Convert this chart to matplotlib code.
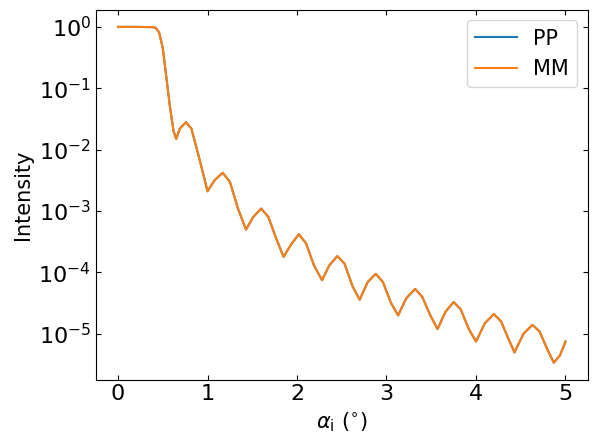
import numpy as np
import matplotlib.pyplot as plt

# values (angle in degrees, reflectivity)
alpha = [0.0, 0.2, 0.38, 0.42, 0.46, 0.5, 0.54, 0.58, 0.62, 0.65, 0.69, 0.76, 0.82,
         0.9, 1.0, 1.08, 1.17, 1.25, 1.34, 1.43, 1.51, 1.6, 1.68, 1.77, 1.85,
         1.93, 2.02, 2.1, 2.19, 2.28, 2.36, 2.45, 2.53, 2.62, 2.7, 2.79, 2.88,
         2.96, 3.05, 3.13, 3.22, 3.32, 3.4, 3.49, 3.57, 3.66, 3.75, 3.83, 3.92,
         4.0, 4.1, 4.2, 4.28, 4.36, 4.43, 4.53, 4.63, 4.71, 4.8, 4.87, 4.94, 5.0]
intensity = [1.0, 1.0, 0.99, 0.97, 0.8, 0.45, 0.15, 0.05, 0.02, 0.015, 0.022, 0.028, 0.022,
             0.008, 0.0021, 0.0032, 0.0042, 0.003, 0.0011, 0.0005, 0.0008, 0.0011, 0.0008, 0.00035, 0.00018,
             0.00028, 0.00042, 0.0003, 0.00013, 0.000075, 0.00013, 0.000185, 0.00014, 0.00006, 0.000036, 0.00007, 0.000095,
             0.00007, 0.000032, 0.00002, 0.000038, 0.000054, 0.00004, 0.00002, 0.000012, 0.000023, 0.000033, 0.000025, 0.000012,
             0.0000075, 0.000015, 0.000021, 0.000016, 0.0000085, 0.000005, 0.00001, 0.000014, 0.000011, 0.0000055, 0.0000034, 0.0000045, 0.0000075]

fig, ax = plt.subplots(figsize=(5.98, 4.44), dpi=100)
ax.plot(alpha, intensity, color='#1f77b4', label='PP')
ax.plot(alpha, intensity, color='#ff7f0e', label='MM')
ax.set_yscale('log')
ax.set_xlim(-0.25, 5.25)
ax.set_ylim(1.8e-6, 1.9)
ax.set_xticks([0, 1, 2, 3, 4, 5])
ax.set_yticks([1e0, 1e-1, 1e-2, 1e-3, 1e-4, 1e-5])
ax.minorticks_off()
ax.tick_params(direction='in', top=True, right=True, labelsize=16)
ax.set_xlabel(r'$\alpha_{\mathrm{i}}$ ($^{\circ}$)', fontsize=15)
ax.set_ylabel('Intensity', fontsize=15)
ax.legend(fontsize=15)
fig.subplots_adjust(left=0.16, right=0.983, top=0.978, bottom=0.145)
fig.savefig('out.png')
